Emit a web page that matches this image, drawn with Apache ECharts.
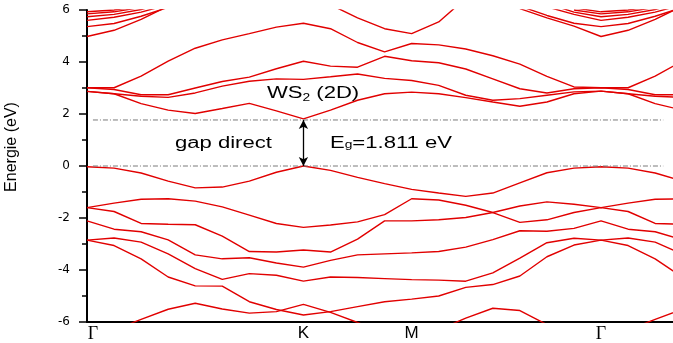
<!DOCTYPE html>
<html><head><meta charset="utf-8">
<script src="https://cdn.jsdelivr.net/npm/echarts@6/dist/echarts.min.js"></script>
<style>html,body{margin:0;padding:0;background:#fff}#c{width:673px;height:343px}</style>
</head><body><div id="c"></div>
<script>
// k-point index along the path Γ-K-M-Γ-(K)
const kIndex = [0,1,2,3,4,5,6,7,8,9,10,11,12,13,14,15,16,17,18,19,20,21,22];
const kTickPos = [0, 8, 12, 19];
const kTickNames = ['Γ', 'K', 'M', 'Γ'];
const yTicks = [-6, -4, -2, 0, 2, 4, 6];

// conduction bands (eV)
const C1 = [2.87,2.78,2.40,2.15,2.02,2.21,2.41,2.12,1.81,2.15,2.53,2.78,2.84,2.78,2.63,2.46,2.30,2.46,2.78,2.88,2.78,2.40,2.15];
const C2 = [2.87,2.78,2.68,2.64,2.81,3.07,3.26,3.35,3.33,3.43,3.54,3.37,3.29,3.10,2.72,2.53,2.59,2.72,2.85,2.88,2.78,2.68,2.64];
const C3 = [3.01,2.94,2.74,2.74,3.00,3.25,3.42,3.74,4.03,3.84,3.80,4.22,4.05,3.97,3.73,3.35,2.97,2.81,2.97,3.01,2.94,2.74,2.74];
const C4 = [3.01,3.01,3.46,4.03,4.53,4.85,5.09,5.34,5.49,5.28,4.75,4.39,4.71,4.66,4.50,4.24,3.92,3.45,3.04,3.01,3.01,3.46,4.03];
const C5 = [null,null,null,null,null,null,null,null,6.60,6.20,5.70,5.28,5.09,5.54,6.45,null,null,null,null,null,null,null,null];
const U1 = [4.98,5.22,5.64,6.15,null,null,null,null,null,null,null,null,null,null,null,null,6.05,5.70,5.38,4.98,5.22,5.64,6.15];
const U2 = [5.36,5.48,5.76,6.10,null,null,null,null,null,null,null,null,null,null,null,null,6.15,5.79,5.49,5.36,5.48,5.76,6.10];
const U3 = [5.60,5.72,5.92,6.20,null,null,null,null,null,null,null,null,null,null,null,null,null,6.12,5.83,5.60,5.72,5.92,6.20];
const U4 = [5.74,5.83,6.02,6.30,null,null,null,null,null,null,null,null,null,null,null,null,null,6.25,5.92,5.74,5.83,6.02,6.30];
const U5 = [5.85,5.93,6.10,null,null,null,null,null,null,null,null,null,null,null,null,null,null,null,6.00,5.85,5.93,6.10,null];
const U6 = [5.93,6.00,6.15,null,null,null,null,null,null,null,null,null,null,null,null,null,null,null,6.08,5.93,6.00,6.15,null];

// valence bands (eV)
const V1 = [-0.03,-0.08,-0.27,-0.58,-0.84,-0.81,-0.58,-0.24,0.00,-0.17,-0.44,-0.68,-0.90,-1.04,-1.17,-1.04,-0.65,-0.26,-0.08,-0.03,-0.08,-0.27,-0.58];
const V2 = [-1.60,-1.43,-1.28,-1.26,-1.35,-1.57,-1.89,-2.21,-2.36,-2.27,-2.15,-1.87,-1.26,-1.31,-1.51,-1.79,-2.17,-2.07,-1.79,-1.60,-1.75,-2.21,-2.24];
const V3 = [-1.60,-1.75,-2.21,-2.24,-2.26,-2.70,-3.29,-3.31,-3.23,-3.31,-2.81,-2.11,-2.11,-2.07,-1.98,-1.79,-1.54,-1.38,-1.47,-1.60,-1.43,-1.28,-1.26];
const V4 = [-2.11,-2.43,-2.53,-2.84,-3.42,-3.57,-3.53,-3.73,-3.89,-3.63,-3.42,-3.38,-3.34,-3.29,-3.12,-2.83,-2.49,-2.51,-2.40,-2.11,-2.43,-2.53,-2.84];
const V5 = [-2.85,-2.77,-2.93,-3.38,-3.95,-4.36,-4.14,-4.20,-4.43,-4.27,-4.29,-4.33,-4.37,-4.39,-4.43,-4.11,-3.54,-2.95,-2.78,-2.85,-2.77,-2.93,-3.38];
const V6 = [-2.85,-3.06,-3.57,-4.27,-4.61,-4.62,-5.22,-5.52,-5.73,-5.60,-5.41,-5.22,-5.12,-5.00,-4.67,-4.56,-4.23,-3.49,-3.04,-2.85,-3.06,-3.57,-4.27];
const V7 = [-6.60,-6.30,-5.90,-5.51,-5.28,-5.50,-5.66,-5.60,-5.32,-5.63,-6.02,-6.40,-6.60,-6.30,-5.85,-5.47,-5.56,-6.10,-6.50,-6.60,-6.30,-5.90,-5.51];

const bands = [C1,C2,C3,C4,C5,U1,U2,U3,U4,U5,U6,V1,V2,V3,V4,V5,V6,V7];

// reference levels: valence band maximum and conduction band minimum
const levels = [0, 1.77];
const levelSpan = [0.22, 21.3];
const gapK = 8;
const gapLabel = 'E_g=1.811 eV';

const chart = echarts.init(document.getElementById('c'), null, {renderer: 'canvas'});

const series = bands.map(b => ({
  type: 'line',
  data: kIndex.map((k, i) => [k, b[i] == null ? '-' : b[i]]),
  showSymbol: false,
  symbol: 'none',
  clip: true,
  lineStyle: {color: '#e10000', width: 1.4},
  silent: true,
  animation: false
}));

levels.forEach(lv => series.push({
  type: 'line',
  data: [[levelSpan[0], lv], [levelSpan[1], lv]],
  showSymbol: false, symbol: 'none', silent: true, animation: false,
  lineStyle: {color: '#7a7a7a', width: 1, type: [5, 2, 1, 2]}
}));

series.push({
  type: 'line', data: [], silent: true, animation: false,
  markLine: {
    silent: true, animation: false,
    symbol: ['arrow', 'arrow'], symbolSize: [7, 9],
    label: {show: false},
    lineStyle: {color: '#000', width: 1.3, type: 'solid'},
    data: [[{coord: [gapK, levels[0]]}, {coord: [gapK, levels[1]]}]]
  }
});

chart.setOption({
  animation: false,
  grid: {left: 87, right: 0, top: 10, bottom: 18, containLabel: false},
  xAxis: {
    type: 'value', min: 0, max: 21.66, interval: 1,
    axisLine: {onZero: false, lineStyle: {color: '#000', width: 2}},
    axisTick: {show: false},
    splitLine: {show: false},
    axisLabel: {
      margin: 3, color: '#000', showMinLabel: true, showMaxLabel: false,
      formatter: v => {
        const r = Math.round(v);
        if (Math.abs(v - r) > 1e-6) return '';
        const j = kTickPos.indexOf(r);
        if (j < 0) return '';
        if (kTickNames[j] === 'Γ') return j === 0 ? '{g0|Γ}' : '{g|Γ}';
        return '{n|' + kTickNames[j] + '}';
      },
      rich: {
        g0: {fontFamily: 'Liberation Serif', fontSize: 18, color: '#000', padding: [0, 0, 0, 12]},
        g: {fontFamily: 'Liberation Serif', fontSize: 18, color: '#000'},
        n: {fontFamily: 'Liberation Sans', fontSize: 17, color: '#000'}
      }
    }
  },
  yAxis: {
    type: 'value', min: yTicks[0], max: yTicks[yTicks.length - 1], interval: 2,
    axisLine: {show: true, onZero: false, lineStyle: {color: '#000', width: 2}},
    axisTick: {show: true, length: 8, lineStyle: {color: '#000', width: 1.5}},
    minorTick: {show: true, splitNumber: 2, length: 5, lineStyle: {color: '#000', width: 1.5}},
    splitLine: {show: false},
    axisLabel: {margin: 17, color: '#000', fontSize: 12, fontFamily: 'DejaVu Sans'}
  },
  series: series
});

// annotations (anchored in data coordinates)
const SX = 1.38;
const mctx = document.createElement('canvas').getContext('2d');
function tw(t, fs) { mctx.font = fs + 'px "Liberation Sans"'; return mctx.measureText(t).width; }
const notes = [
  {at: [6.65, 2.78], parts: [{t: 'WS', fs: 16, dy: 0}, {t: '2', fs: 10, dy: 5}, {t: ' (2D)', fs: 16, dy: 0}]},
  {at: [3.25, 0.85], parts: [{t: 'gap direct', fs: 16, dy: 0}]},
  {at: [8.98, 0.88], parts: [{t: 'E', fs: 16, dy: 0}, {t: 'g', fs: 10, dy: 2}, {t: gapLabel.split('_g')[1], fs: 16, dy: 0}]}
];
const graphics = [];
notes.forEach(n => {
  const p = chart.convertToPixel({gridIndex: 0}, n.at);
  let x = p[0];
  n.parts.forEach(pt => {
    graphics.push({
      type: 'text', x: x, y: p[1] + pt.dy, scaleX: SX, silent: true,
      style: {text: pt.t, font: pt.fs + 'px "Liberation Sans"', fill: '#000', textAlign: 'left', textVerticalAlign: 'middle'}
    });
    x += tw(pt.t, pt.fs) * SX;
  });
});
graphics.push({
  type: 'text', x: 12, y: 147, rotation: Math.PI / 2, silent: true,
  style: {text: 'Energie (eV)', font: '16px "Liberation Sans"', fill: '#000', textAlign: 'center', textVerticalAlign: 'middle'}
});
chart.setOption({graphic: graphics});
</script>
</body></html>
